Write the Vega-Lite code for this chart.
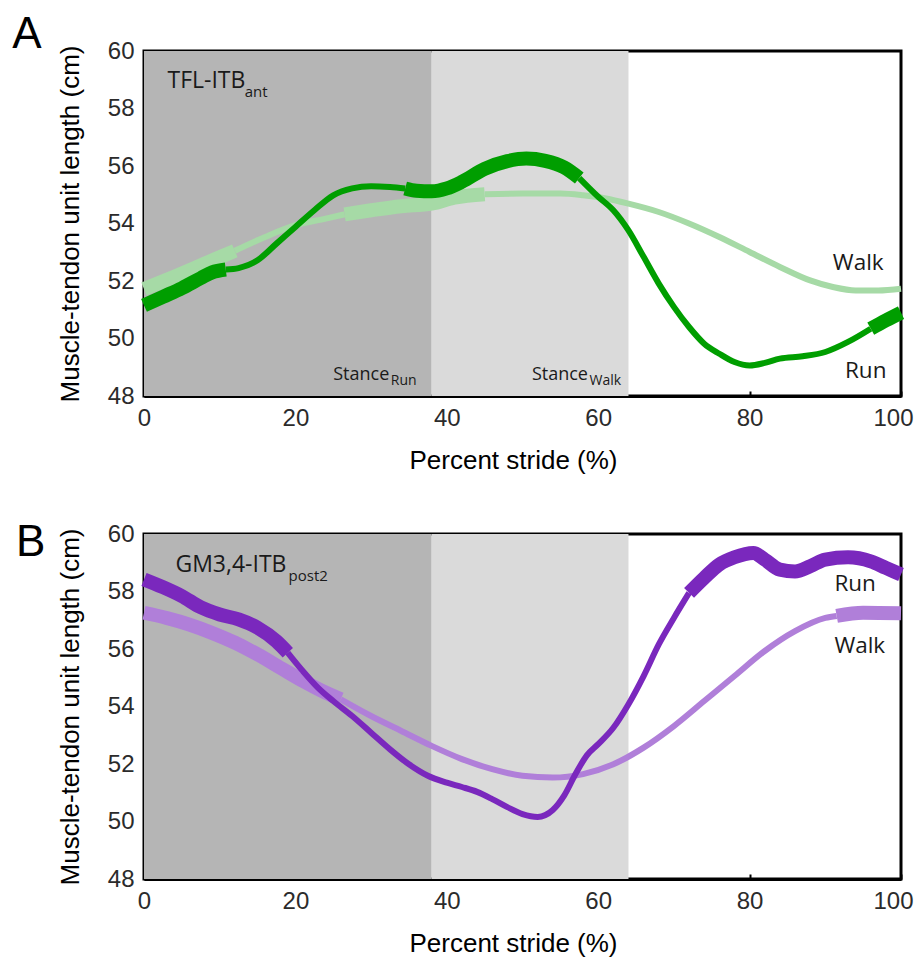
{
  "$schema": "https://vega.github.io/schema/vega-lite/v6.json",
  "background": "white",
  "padding": {"left": 10, "top": 11, "right": 0, "bottom": 0},
  "spacing": 44,
  "config": {
    "view": {"stroke": "black", "strokeWidth": 3},
    "axis": {
      "zindex": 1,
      "domainColor": "black", "domainWidth": 3,
      "tickColor": "black", "tickWidth": 2, "tickSize": -5,
      "grid": false,
      "labelFont": "Liberation Sans", "labelFontSize": 24, "labelColor": "#2b2b2b",
      "titleFont": "Liberation Sans", "titleFontSize": 26, "titleFontWeight": "normal", "titleColor": "black"
    }
  },
  "datasets": {
    "bands": [
      {"zone": "run", "x": 0, "xe": 38},
      {"zone": "walk", "x": 38, "xe": 64}
    ],
    "curves": [
      {"panel": "A", "line": "A Walk", "seg": "A-W1", "phase": "thick", "x": 0, "y": 51.72},
      {"panel": "A", "line": "A Walk", "seg": "A-W1", "phase": "thick", "x": 4, "y": 52.15},
      {"panel": "A", "line": "A Walk", "seg": "A-W1", "phase": "thick", "x": 8, "y": 52.6},
      {"panel": "A", "line": "A Walk", "seg": "A-W1", "phase": "thick", "x": 12, "y": 53.05},
      {"panel": "A", "line": "A Walk", "seg": "A-W2", "phase": "thin", "x": 12, "y": 53.05},
      {"panel": "A", "line": "A Walk", "seg": "A-W2", "phase": "thin", "x": 16, "y": 53.53},
      {"panel": "A", "line": "A Walk", "seg": "A-W2", "phase": "thin", "x": 20, "y": 53.94},
      {"panel": "A", "line": "A Walk", "seg": "A-W2", "phase": "thin", "x": 24, "y": 54.17},
      {"panel": "A", "line": "A Walk", "seg": "A-W2", "phase": "thin", "x": 26.5, "y": 54.32},
      {"panel": "A", "line": "A Walk", "seg": "A-W3", "phase": "thick", "x": 26.5, "y": 54.32},
      {"panel": "A", "line": "A Walk", "seg": "A-W3", "phase": "thick", "x": 30, "y": 54.46},
      {"panel": "A", "line": "A Walk", "seg": "A-W3", "phase": "thick", "x": 34, "y": 54.6},
      {"panel": "A", "line": "A Walk", "seg": "A-W3", "phase": "thick", "x": 38, "y": 54.69},
      {"panel": "A", "line": "A Walk", "seg": "A-W3", "phase": "thick", "x": 41, "y": 54.9},
      {"panel": "A", "line": "A Walk", "seg": "A-W3", "phase": "thick", "x": 45, "y": 55.02},
      {"panel": "A", "line": "A Walk", "seg": "A-W4", "phase": "thin", "x": 45, "y": 55.02},
      {"panel": "A", "line": "A Walk", "seg": "A-W4", "phase": "thin", "x": 50, "y": 55.04},
      {"panel": "A", "line": "A Walk", "seg": "A-W4", "phase": "thin", "x": 55, "y": 55.04},
      {"panel": "A", "line": "A Walk", "seg": "A-W4", "phase": "thin", "x": 58, "y": 54.98},
      {"panel": "A", "line": "A Walk", "seg": "A-W4", "phase": "thin", "x": 61, "y": 54.87},
      {"panel": "A", "line": "A Walk", "seg": "A-W4", "phase": "thin", "x": 64, "y": 54.69},
      {"panel": "A", "line": "A Walk", "seg": "A-W4", "phase": "thin", "x": 68, "y": 54.4},
      {"panel": "A", "line": "A Walk", "seg": "A-W4", "phase": "thin", "x": 72, "y": 54.0},
      {"panel": "A", "line": "A Walk", "seg": "A-W4", "phase": "thin", "x": 76, "y": 53.53},
      {"panel": "A", "line": "A Walk", "seg": "A-W4", "phase": "thin", "x": 80, "y": 53.01},
      {"panel": "A", "line": "A Walk", "seg": "A-W4", "phase": "thin", "x": 84, "y": 52.49},
      {"panel": "A", "line": "A Walk", "seg": "A-W4", "phase": "thin", "x": 88, "y": 52.02},
      {"panel": "A", "line": "A Walk", "seg": "A-W4", "phase": "thin", "x": 91, "y": 51.79},
      {"panel": "A", "line": "A Walk", "seg": "A-W4", "phase": "thin", "x": 94, "y": 51.67},
      {"panel": "A", "line": "A Walk", "seg": "A-W4", "phase": "thin", "x": 97, "y": 51.67},
      {"panel": "A", "line": "A Walk", "seg": "A-W4", "phase": "thin", "x": 100, "y": 51.73},
      {"panel": "A", "line": "A Run", "seg": "A-R1", "phase": "thick", "x": 0, "y": 51.15},
      {"panel": "A", "line": "A Run", "seg": "A-R1", "phase": "thick", "x": 2.5, "y": 51.45},
      {"panel": "A", "line": "A Run", "seg": "A-R1", "phase": "thick", "x": 5, "y": 51.75},
      {"panel": "A", "line": "A Run", "seg": "A-R1", "phase": "thick", "x": 7.5, "y": 52.1},
      {"panel": "A", "line": "A Run", "seg": "A-R1", "phase": "thick", "x": 9, "y": 52.3},
      {"panel": "A", "line": "A Run", "seg": "A-R1", "phase": "thick", "x": 10.8, "y": 52.4},
      {"panel": "A", "line": "A Run", "seg": "A-R2", "phase": "thin", "x": 10.8, "y": 52.4},
      {"panel": "A", "line": "A Run", "seg": "A-R2", "phase": "thin", "x": 12.5, "y": 52.45},
      {"panel": "A", "line": "A Run", "seg": "A-R2", "phase": "thin", "x": 15, "y": 52.72},
      {"panel": "A", "line": "A Run", "seg": "A-R2", "phase": "thin", "x": 17.5, "y": 53.3},
      {"panel": "A", "line": "A Run", "seg": "A-R2", "phase": "thin", "x": 20, "y": 53.88},
      {"panel": "A", "line": "A Run", "seg": "A-R2", "phase": "thin", "x": 22.5, "y": 54.46},
      {"panel": "A", "line": "A Run", "seg": "A-R2", "phase": "thin", "x": 25, "y": 54.98},
      {"panel": "A", "line": "A Run", "seg": "A-R2", "phase": "thin", "x": 27.5, "y": 55.22},
      {"panel": "A", "line": "A Run", "seg": "A-R2", "phase": "thin", "x": 30, "y": 55.3},
      {"panel": "A", "line": "A Run", "seg": "A-R2", "phase": "thin", "x": 32.5, "y": 55.27},
      {"panel": "A", "line": "A Run", "seg": "A-R2", "phase": "thin", "x": 34.5, "y": 55.22},
      {"panel": "A", "line": "A Run", "seg": "A-R3", "phase": "thick", "x": 34.5, "y": 55.22},
      {"panel": "A", "line": "A Run", "seg": "A-R3", "phase": "thick", "x": 36, "y": 55.14},
      {"panel": "A", "line": "A Run", "seg": "A-R3", "phase": "thick", "x": 38, "y": 55.12},
      {"panel": "A", "line": "A Run", "seg": "A-R3", "phase": "thick", "x": 40, "y": 55.22},
      {"panel": "A", "line": "A Run", "seg": "A-R3", "phase": "thick", "x": 42, "y": 55.45},
      {"panel": "A", "line": "A Run", "seg": "A-R3", "phase": "thick", "x": 45, "y": 55.9},
      {"panel": "A", "line": "A Run", "seg": "A-R3", "phase": "thick", "x": 48, "y": 56.17},
      {"panel": "A", "line": "A Run", "seg": "A-R3", "phase": "thick", "x": 50.5, "y": 56.26},
      {"panel": "A", "line": "A Run", "seg": "A-R3", "phase": "thick", "x": 53, "y": 56.18},
      {"panel": "A", "line": "A Run", "seg": "A-R3", "phase": "thick", "x": 55.5, "y": 55.95},
      {"panel": "A", "line": "A Run", "seg": "A-R3", "phase": "thick", "x": 57.5, "y": 55.58},
      {"panel": "A", "line": "A Run", "seg": "A-R4", "phase": "thin", "x": 57.5, "y": 55.58},
      {"panel": "A", "line": "A Run", "seg": "A-R4", "phase": "thin", "x": 60, "y": 54.93},
      {"panel": "A", "line": "A Run", "seg": "A-R4", "phase": "thin", "x": 62, "y": 54.46},
      {"panel": "A", "line": "A Run", "seg": "A-R4", "phase": "thin", "x": 64, "y": 53.76},
      {"panel": "A", "line": "A Run", "seg": "A-R4", "phase": "thin", "x": 66, "y": 52.84},
      {"panel": "A", "line": "A Run", "seg": "A-R4", "phase": "thin", "x": 68, "y": 51.91},
      {"panel": "A", "line": "A Run", "seg": "A-R4", "phase": "thin", "x": 70, "y": 51.1},
      {"panel": "A", "line": "A Run", "seg": "A-R4", "phase": "thin", "x": 72, "y": 50.4},
      {"panel": "A", "line": "A Run", "seg": "A-R4", "phase": "thin", "x": 74, "y": 49.82},
      {"panel": "A", "line": "A Run", "seg": "A-R4", "phase": "thin", "x": 76, "y": 49.47},
      {"panel": "A", "line": "A Run", "seg": "A-R4", "phase": "thin", "x": 78, "y": 49.18},
      {"panel": "A", "line": "A Run", "seg": "A-R4", "phase": "thin", "x": 80, "y": 49.06},
      {"panel": "A", "line": "A Run", "seg": "A-R4", "phase": "thin", "x": 82, "y": 49.15},
      {"panel": "A", "line": "A Run", "seg": "A-R4", "phase": "thin", "x": 84, "y": 49.3},
      {"panel": "A", "line": "A Run", "seg": "A-R4", "phase": "thin", "x": 87, "y": 49.38},
      {"panel": "A", "line": "A Run", "seg": "A-R4", "phase": "thin", "x": 90, "y": 49.53},
      {"panel": "A", "line": "A Run", "seg": "A-R4", "phase": "thin", "x": 93, "y": 49.88},
      {"panel": "A", "line": "A Run", "seg": "A-R4", "phase": "thin", "x": 96, "y": 50.34},
      {"panel": "A", "line": "A Run", "seg": "A-R5", "phase": "thick", "x": 96, "y": 50.34},
      {"panel": "A", "line": "A Run", "seg": "A-R5", "phase": "thick", "x": 98, "y": 50.63},
      {"panel": "A", "line": "A Run", "seg": "A-R5", "phase": "thick", "x": 100, "y": 50.9},
      {"panel": "B", "line": "B Walk", "seg": "B-W1", "phase": "thick", "x": 0, "y": 57.26},
      {"panel": "B", "line": "B Walk", "seg": "B-W1", "phase": "thick", "x": 3, "y": 57.08},
      {"panel": "B", "line": "B Walk", "seg": "B-W1", "phase": "thick", "x": 6, "y": 56.85},
      {"panel": "B", "line": "B Walk", "seg": "B-W1", "phase": "thick", "x": 9, "y": 56.56},
      {"panel": "B", "line": "B Walk", "seg": "B-W1", "phase": "thick", "x": 12, "y": 56.22},
      {"panel": "B", "line": "B Walk", "seg": "B-W1", "phase": "thick", "x": 15, "y": 55.81},
      {"panel": "B", "line": "B Walk", "seg": "B-W1", "phase": "thick", "x": 18, "y": 55.35},
      {"panel": "B", "line": "B Walk", "seg": "B-W1", "phase": "thick", "x": 21, "y": 54.89},
      {"panel": "B", "line": "B Walk", "seg": "B-W1", "phase": "thick", "x": 24, "y": 54.48},
      {"panel": "B", "line": "B Walk", "seg": "B-W1", "phase": "thick", "x": 26, "y": 54.25},
      {"panel": "B", "line": "B Walk", "seg": "B-W2", "phase": "thin", "x": 26, "y": 54.25},
      {"panel": "B", "line": "B Walk", "seg": "B-W2", "phase": "thin", "x": 30, "y": 53.67},
      {"panel": "B", "line": "B Walk", "seg": "B-W2", "phase": "thin", "x": 34, "y": 53.15},
      {"panel": "B", "line": "B Walk", "seg": "B-W2", "phase": "thin", "x": 38, "y": 52.63},
      {"panel": "B", "line": "B Walk", "seg": "B-W2", "phase": "thin", "x": 42, "y": 52.17},
      {"panel": "B", "line": "B Walk", "seg": "B-W2", "phase": "thin", "x": 46, "y": 51.82},
      {"panel": "B", "line": "B Walk", "seg": "B-W2", "phase": "thin", "x": 50, "y": 51.59},
      {"panel": "B", "line": "B Walk", "seg": "B-W2", "phase": "thin", "x": 54, "y": 51.53},
      {"panel": "B", "line": "B Walk", "seg": "B-W2", "phase": "thin", "x": 58, "y": 51.65},
      {"panel": "B", "line": "B Walk", "seg": "B-W2", "phase": "thin", "x": 62, "y": 51.99},
      {"panel": "B", "line": "B Walk", "seg": "B-W2", "phase": "thin", "x": 66, "y": 52.57},
      {"panel": "B", "line": "B Walk", "seg": "B-W2", "phase": "thin", "x": 70, "y": 53.32},
      {"panel": "B", "line": "B Walk", "seg": "B-W2", "phase": "thin", "x": 74, "y": 54.19},
      {"panel": "B", "line": "B Walk", "seg": "B-W2", "phase": "thin", "x": 78, "y": 55.06},
      {"panel": "B", "line": "B Walk", "seg": "B-W2", "phase": "thin", "x": 82, "y": 55.93},
      {"panel": "B", "line": "B Walk", "seg": "B-W2", "phase": "thin", "x": 86, "y": 56.62},
      {"panel": "B", "line": "B Walk", "seg": "B-W2", "phase": "thin", "x": 90, "y": 57.08},
      {"panel": "B", "line": "B Walk", "seg": "B-W2", "phase": "thin", "x": 91.5, "y": 57.15},
      {"panel": "B", "line": "B Walk", "seg": "B-W3", "phase": "thick", "x": 91.5, "y": 57.15},
      {"panel": "B", "line": "B Walk", "seg": "B-W3", "phase": "thick", "x": 95, "y": 57.26},
      {"panel": "B", "line": "B Walk", "seg": "B-W3", "phase": "thick", "x": 100, "y": 57.24},
      {"panel": "B", "line": "B Run", "seg": "B-R1", "phase": "thick", "x": 0, "y": 58.42},
      {"panel": "B", "line": "B Run", "seg": "B-R1", "phase": "thick", "x": 2.5, "y": 58.15},
      {"panel": "B", "line": "B Run", "seg": "B-R1", "phase": "thick", "x": 5, "y": 57.84},
      {"panel": "B", "line": "B Run", "seg": "B-R1", "phase": "thick", "x": 7.5, "y": 57.45},
      {"panel": "B", "line": "B Run", "seg": "B-R1", "phase": "thick", "x": 10, "y": 57.2},
      {"panel": "B", "line": "B Run", "seg": "B-R1", "phase": "thick", "x": 12.5, "y": 57.03},
      {"panel": "B", "line": "B Run", "seg": "B-R1", "phase": "thick", "x": 15, "y": 56.74},
      {"panel": "B", "line": "B Run", "seg": "B-R1", "phase": "thick", "x": 17.5, "y": 56.27},
      {"panel": "B", "line": "B Run", "seg": "B-R1", "phase": "thick", "x": 19, "y": 55.87},
      {"panel": "B", "line": "B Run", "seg": "B-R2", "phase": "thin", "x": 19, "y": 55.87},
      {"panel": "B", "line": "B Run", "seg": "B-R2", "phase": "thin", "x": 21, "y": 55.23},
      {"panel": "B", "line": "B Run", "seg": "B-R2", "phase": "thin", "x": 23, "y": 54.65},
      {"panel": "B", "line": "B Run", "seg": "B-R2", "phase": "thin", "x": 25, "y": 54.19},
      {"panel": "B", "line": "B Run", "seg": "B-R2", "phase": "thin", "x": 27.5, "y": 53.67},
      {"panel": "B", "line": "B Run", "seg": "B-R2", "phase": "thin", "x": 30, "y": 53.09},
      {"panel": "B", "line": "B Run", "seg": "B-R2", "phase": "thin", "x": 32.5, "y": 52.51},
      {"panel": "B", "line": "B Run", "seg": "B-R2", "phase": "thin", "x": 35, "y": 51.99},
      {"panel": "B", "line": "B Run", "seg": "B-R2", "phase": "thin", "x": 37.5, "y": 51.59},
      {"panel": "B", "line": "B Run", "seg": "B-R2", "phase": "thin", "x": 40, "y": 51.35},
      {"panel": "B", "line": "B Run", "seg": "B-R2", "phase": "thin", "x": 42, "y": 51.2},
      {"panel": "B", "line": "B Run", "seg": "B-R2", "phase": "thin", "x": 44, "y": 51.03},
      {"panel": "B", "line": "B Run", "seg": "B-R2", "phase": "thin", "x": 46, "y": 50.78},
      {"panel": "B", "line": "B Run", "seg": "B-R2", "phase": "thin", "x": 48, "y": 50.5},
      {"panel": "B", "line": "B Run", "seg": "B-R2", "phase": "thin", "x": 50, "y": 50.26},
      {"panel": "B", "line": "B Run", "seg": "B-R2", "phase": "thin", "x": 52, "y": 50.16},
      {"panel": "B", "line": "B Run", "seg": "B-R2", "phase": "thin", "x": 54, "y": 50.4},
      {"panel": "B", "line": "B Run", "seg": "B-R2", "phase": "thin", "x": 55.5, "y": 50.9},
      {"panel": "B", "line": "B Run", "seg": "B-R2", "phase": "thin", "x": 57, "y": 51.65},
      {"panel": "B", "line": "B Run", "seg": "B-R2", "phase": "thin", "x": 58.5, "y": 52.3},
      {"panel": "B", "line": "B Run", "seg": "B-R2", "phase": "thin", "x": 60, "y": 52.69},
      {"panel": "B", "line": "B Run", "seg": "B-R2", "phase": "thin", "x": 62, "y": 53.26},
      {"panel": "B", "line": "B Run", "seg": "B-R2", "phase": "thin", "x": 64, "y": 54.08},
      {"panel": "B", "line": "B Run", "seg": "B-R2", "phase": "thin", "x": 66, "y": 55.06},
      {"panel": "B", "line": "B Run", "seg": "B-R2", "phase": "thin", "x": 68, "y": 56.16},
      {"panel": "B", "line": "B Run", "seg": "B-R2", "phase": "thin", "x": 70, "y": 57.08},
      {"panel": "B", "line": "B Run", "seg": "B-R2", "phase": "thin", "x": 72, "y": 57.95},
      {"panel": "B", "line": "B Run", "seg": "B-R3", "phase": "thick", "x": 72, "y": 57.95},
      {"panel": "B", "line": "B Run", "seg": "B-R3", "phase": "thick", "x": 74, "y": 58.47},
      {"panel": "B", "line": "B Run", "seg": "B-R3", "phase": "thick", "x": 76, "y": 58.94},
      {"panel": "B", "line": "B Run", "seg": "B-R3", "phase": "thick", "x": 78, "y": 59.19},
      {"panel": "B", "line": "B Run", "seg": "B-R3", "phase": "thick", "x": 80.5, "y": 59.34},
      {"panel": "B", "line": "B Run", "seg": "B-R3", "phase": "thick", "x": 82, "y": 59.11},
      {"panel": "B", "line": "B Run", "seg": "B-R3", "phase": "thick", "x": 84, "y": 58.76},
      {"panel": "B", "line": "B Run", "seg": "B-R3", "phase": "thick", "x": 86, "y": 58.7},
      {"panel": "B", "line": "B Run", "seg": "B-R3", "phase": "thick", "x": 88, "y": 58.88},
      {"panel": "B", "line": "B Run", "seg": "B-R3", "phase": "thick", "x": 90, "y": 59.11},
      {"panel": "B", "line": "B Run", "seg": "B-R3", "phase": "thick", "x": 93, "y": 59.19},
      {"panel": "B", "line": "B Run", "seg": "B-R3", "phase": "thick", "x": 96, "y": 59.05},
      {"panel": "B", "line": "B Run", "seg": "B-R3", "phase": "thick", "x": 98, "y": 58.82},
      {"panel": "B", "line": "B Run", "seg": "B-R3", "phase": "thick", "x": 100, "y": 58.59}
    ],
    "labels": [
      {"panel": "A", "kind": "letter", "text": "A", "x": -17.4, "y": 60.09},
      {"panel": "A", "kind": "main", "text": "TFL-ITB", "x": 3.1, "y": 58.72},
      {"panel": "A", "kind": "sub", "text": "ant", "x": 13.3, "y": 58.41},
      {"panel": "A", "kind": "stance", "text": "Stance", "x": 32.4, "y": 48.57},
      {"panel": "A", "kind": "stancesub", "text": "Run", "x": 32.6, "y": 48.37},
      {"panel": "A", "kind": "stance", "text": "Stance", "x": 58.65, "y": 48.57},
      {"panel": "A", "kind": "stancesub", "text": "Walk", "x": 58.86, "y": 48.37},
      {"panel": "A", "kind": "gait", "text": "Walk", "x": 91.0, "y": 52.4},
      {"panel": "A", "kind": "gait", "text": "Run", "x": 92.6, "y": 48.63},
      {"panel": "B", "kind": "letter", "text": "B", "x": -16.9, "y": 59.23},
      {"panel": "B", "kind": "main", "text": "GM3,4-ITB", "x": 4.15, "y": 58.68},
      {"panel": "B", "kind": "sub", "text": "post2", "x": 19.1, "y": 58.36},
      {"panel": "B", "kind": "gait", "text": "Run", "x": 91.2, "y": 58.01},
      {"panel": "B", "kind": "gait", "text": "Walk", "x": 91.2, "y": 55.87}
    ]
  },
  "vconcat": [
    {
      "width": 757,
      "height": 345,
      "encoding": {
        "x": {"field": "x", "type": "quantitative", "scale": {"domain": [0, 100], "nice": false, "zero": false},
              "axis": {"values": [0, 20, 40, 60, 80, 100], "title": "Percent stride (%)", "labelFlush": false, "labelPadding": 15,
                       "labelOffset": {"condition": {"test": "datum.value === 100", "value": -8}, "value": 0},
                       "titleX": 369, "titleY": 72, "titleBaseline": "alphabetic", "titleAlign": "center"}}
      },
      "layer": [
        {
          "data": {"name": "bands"},
          "mark": {"type": "rect"},
          "encoding": {
            "x2": {"field": "xe"},
            "color": {"field": "zone", "type": "nominal", "scale": {"domain": ["A Run", "A Walk", "B Run", "B Walk", "run", "walk"], "range": ["#009e00", "#a6daa6", "#7a28bd", "#b07fd9", "#b5b5b5", "#dadada"]}, "legend": null}
          }
        },
        {
          "data": {"name": "curves"},
          "transform": [{"filter": "datum.panel === 'A'"}],
          "mark": {"type": "line", "interpolate": "monotone", "strokeCap": "butt"},
          "encoding": {
            "y": {"field": "y", "type": "quantitative", "scale": {"domain": [48, 60], "nice": false, "zero": false},
                  "axis": {"values": [48, 50, 52, 54, 56, 58, 60], "title": "Muscle-tendon unit length (cm)", "labelPadding": 15, "titleX": -66, "titleY": 172.5, "titleAngle": -90, "titleBaseline": "alphabetic", "titleAlign": "center"}},
            "color": {"field": "line", "type": "nominal", "scale": {"domain": ["A Run", "A Walk", "B Run", "B Walk", "run", "walk"], "range": ["#009e00", "#a6daa6", "#7a28bd", "#b07fd9", "#b5b5b5", "#dadada"]}, "legend": null},
            "detail": {"field": "seg"},
            "strokeWidth": {"field": "phase", "type": "nominal", "scale": {"domain": ["thin", "thick"], "range": [6, 14]}, "legend": null}
          }
        },
        {
          "data": {"name": "labels"},
          "transform": [{"filter": "datum.panel === 'A' && datum.kind === 'letter'"}],
          "mark": {"type": "text", "font": "Liberation Sans", "fontSize": 44, "align": "left", "baseline": "alphabetic", "color": "black"},
          "encoding": {"y": {"field": "y", "type": "quantitative", "title": "Muscle-tendon unit length (cm)"}, "text": {"field": "text"}}
        },
        {
          "data": {"name": "labels"},
          "transform": [{"filter": "datum.panel === 'A' && datum.kind === 'main'"}],
          "mark": {"type": "text", "font": "Open Sans", "fontSize": 23, "align": "left", "baseline": "alphabetic", "color": "#1a1a1a"},
          "encoding": {"y": {"field": "y", "type": "quantitative", "title": "Muscle-tendon unit length (cm)"}, "text": {"field": "text"}}
        },
        {
          "data": {"name": "labels"},
          "transform": [{"filter": "datum.panel === 'A' && datum.kind === 'sub'"}],
          "mark": {"type": "text", "font": "Open Sans", "fontSize": 15, "align": "left", "baseline": "alphabetic", "color": "#1a1a1a"},
          "encoding": {"y": {"field": "y", "type": "quantitative", "title": "Muscle-tendon unit length (cm)"}, "text": {"field": "text"}}
        },
        {
          "data": {"name": "labels"},
          "transform": [{"filter": "datum.panel === 'A' && datum.kind === 'stance'"}],
          "mark": {"type": "text", "font": "Open Sans", "fontSize": 18, "align": "right", "baseline": "alphabetic", "color": "#1a1a1a"},
          "encoding": {"y": {"field": "y", "type": "quantitative", "title": "Muscle-tendon unit length (cm)"}, "text": {"field": "text"}}
        },
        {
          "data": {"name": "labels"},
          "transform": [{"filter": "datum.panel === 'A' && datum.kind === 'stancesub'"}],
          "mark": {"type": "text", "font": "Open Sans", "fontSize": 14, "align": "left", "baseline": "alphabetic", "color": "#1a1a1a"},
          "encoding": {"y": {"field": "y", "type": "quantitative", "title": "Muscle-tendon unit length (cm)"}, "text": {"field": "text"}}
        },
        {
          "data": {"name": "labels"},
          "transform": [{"filter": "datum.panel === 'A' && datum.kind === 'gait'"}],
          "mark": {"type": "text", "font": "Open Sans", "fontSize": 22.5, "align": "left", "baseline": "alphabetic", "color": "#1a1a1a"},
          "encoding": {"y": {"field": "y", "type": "quantitative", "title": "Muscle-tendon unit length (cm)"}, "text": {"field": "text"}}
        }
      ]
    },
    {
      "width": 757,
      "height": 345,
      "encoding": {
        "x": {"field": "x", "type": "quantitative", "scale": {"domain": [0, 100], "nice": false, "zero": false},
              "axis": {"values": [0, 20, 40, 60, 80, 100], "title": "Percent stride (%)", "labelFlush": false, "labelPadding": 15,
                       "labelOffset": {"condition": {"test": "datum.value === 100", "value": -8}, "value": 0},
                       "titleX": 369, "titleY": 72, "titleBaseline": "alphabetic", "titleAlign": "center"}}
      },
      "layer": [
        {
          "data": {"name": "bands"},
          "mark": {"type": "rect"},
          "encoding": {
            "x2": {"field": "xe"},
            "color": {"field": "zone", "type": "nominal", "scale": {"domain": ["A Run", "A Walk", "B Run", "B Walk", "run", "walk"], "range": ["#009e00", "#a6daa6", "#7a28bd", "#b07fd9", "#b5b5b5", "#dadada"]}, "legend": null}
          }
        },
        {
          "data": {"name": "curves"},
          "transform": [{"filter": "datum.panel === 'B'"}],
          "mark": {"type": "line", "interpolate": "monotone", "strokeCap": "butt"},
          "encoding": {
            "y": {"field": "y", "type": "quantitative", "scale": {"domain": [48, 60], "nice": false, "zero": false},
                  "axis": {"values": [48, 50, 52, 54, 56, 58, 60], "title": "Muscle-tendon unit length (cm)", "labelPadding": 15, "titleX": -66, "titleY": 172.5, "titleAngle": -90, "titleBaseline": "alphabetic", "titleAlign": "center"}},
            "color": {"field": "line", "type": "nominal", "scale": {"domain": ["A Run", "A Walk", "B Run", "B Walk", "run", "walk"], "range": ["#009e00", "#a6daa6", "#7a28bd", "#b07fd9", "#b5b5b5", "#dadada"]}, "legend": null},
            "detail": {"field": "seg"},
            "strokeWidth": {"field": "phase", "type": "nominal", "scale": {"domain": ["thin", "thick"], "range": [6, 14]}, "legend": null}
          }
        },
        {
          "data": {"name": "labels"},
          "transform": [{"filter": "datum.panel === 'B' && datum.kind === 'letter'"}],
          "mark": {"type": "text", "font": "Liberation Sans", "fontSize": 44, "align": "left", "baseline": "alphabetic", "color": "black"},
          "encoding": {"y": {"field": "y", "type": "quantitative", "title": "Muscle-tendon unit length (cm)"}, "text": {"field": "text"}}
        },
        {
          "data": {"name": "labels"},
          "transform": [{"filter": "datum.panel === 'B' && datum.kind === 'main'"}],
          "mark": {"type": "text", "font": "Open Sans", "fontSize": 23, "align": "left", "baseline": "alphabetic", "color": "#1a1a1a"},
          "encoding": {"y": {"field": "y", "type": "quantitative", "title": "Muscle-tendon unit length (cm)"}, "text": {"field": "text"}}
        },
        {
          "data": {"name": "labels"},
          "transform": [{"filter": "datum.panel === 'B' && datum.kind === 'sub'"}],
          "mark": {"type": "text", "font": "Open Sans", "fontSize": 15, "align": "left", "baseline": "alphabetic", "color": "#1a1a1a"},
          "encoding": {"y": {"field": "y", "type": "quantitative", "title": "Muscle-tendon unit length (cm)"}, "text": {"field": "text"}}
        },
        {
          "data": {"name": "labels"},
          "transform": [{"filter": "datum.panel === 'B' && datum.kind === 'gait'"}],
          "mark": {"type": "text", "font": "Open Sans", "fontSize": 22.5, "align": "left", "baseline": "alphabetic", "color": "#1a1a1a"},
          "encoding": {"y": {"field": "y", "type": "quantitative", "title": "Muscle-tendon unit length (cm)"}, "text": {"field": "text"}}
        }
      ]
    }
  ]
}
